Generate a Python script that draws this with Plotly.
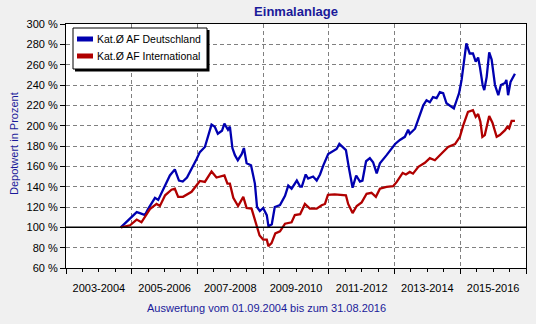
import plotly.graph_objects as go

# ---- data ----
de_dates = ["2004-09-01","2004-10-16","2004-12-13","2005-02-25","2005-04-01","2005-05-28","2005-07-01",
            "2005-09-16","2005-10-22","2005-12-16","2006-03-01","2006-04-25","2006-06-10","2006-07-22",
            "2006-09-07","2006-12-22","2007-01-28","2007-03-25","2007-05-01","2007-06-07","2007-07-13",
            "2007-08-16","2007-10-01","2007-10-28","2007-12-07","2007-12-28","2008-01-25","2008-02-22",
            "2008-03-25","2008-05-07","2008-06-01","2008-07-01","2008-08-19","2008-10-01","2008-10-25",
            "2008-11-25","2009-01-01","2009-02-10","2009-03-01","2009-04-07","2009-05-10","2009-07-07",
            "2009-09-01","2009-10-07","2009-11-13","2010-01-10","2010-02-16","2010-03-07","2010-04-19",
            "2010-05-16","2010-07-10","2010-08-19","2010-09-25","2010-11-01","2010-12-25","2011-02-19",
            "2011-03-28","2011-04-28","2011-06-07","2011-07-10","2011-08-13","2011-09-22","2011-11-01",
            "2011-12-13","2012-01-10","2012-02-19","2012-04-01","2012-05-07","2012-06-16","2012-07-22",
            "2012-10-04","2013-01-07","2013-03-01","2013-04-25","2013-06-01","2013-06-19","2013-08-16",
            "2013-09-22","2013-11-16","2013-12-22","2014-01-28","2014-03-04","2014-04-13","2014-05-19",
            "2014-06-25","2014-08-01","2014-09-07","2014-10-22","2014-11-22","2014-12-19","2015-01-16",
            "2015-02-10","2015-03-10","2015-04-16","2015-05-22","2015-06-22","2015-07-19","2015-08-07",
            "2015-09-07","2015-09-25","2015-10-22","2015-11-19","2015-12-16","2016-01-22","2016-02-28",
            "2016-03-28","2016-05-13","2016-05-28","2016-06-16","2016-07-13","2016-08-31"]
de_values = [100,104,109,115,114,112,118,
             129,127,137,151,157,146,145,
             149,167,174,179,189,201,199,
             192,195,202,196,199,178,171,
             166,172,178,163,161,143,120,
             116,119,112,101,103,120,122,
             131,141,138,146,140,140,152,
             148,150,146,152,161,172,175,
             177,182,179,176,158,139,151,
             145,146,165,168,164,153,163,
             171,182,186,189,196,192,197,
             207,220,225,223,228,227,233,
             232,222,220,217,225,232,245,
             260,281,271,271,263,267,258,
             240,235,248,272,265,240,230,
             240,242,245,230,243,251]

int_dates = ["2004-09-01","2004-12-13","2005-02-25","2005-04-19","2005-07-22","2005-10-04","2005-11-10",
             "2006-01-07","2006-03-19","2006-04-25","2006-06-01","2006-07-25","2006-10-28","2007-01-28",
             "2007-03-25","2007-06-07","2007-08-01","2007-09-07","2007-10-28","2007-12-01","2007-12-28",
             "2008-02-04","2008-03-28","2008-05-25","2008-07-01","2008-08-25","2008-10-19","2008-11-22",
             "2009-01-01","2009-02-10","2009-02-28","2009-04-04","2009-05-16","2009-07-07","2009-09-01",
             "2009-11-13","2009-12-19","2010-02-16","2010-04-10","2010-06-04","2010-08-19","2010-10-13",
             "2010-11-19","2010-12-22","2011-03-07","2011-06-01","2011-07-10","2011-08-04","2011-09-22",
             "2011-11-07","2012-01-01","2012-02-25","2012-04-19","2012-06-07","2012-07-22","2012-10-04",
             "2012-12-16","2013-01-25","2013-04-01","2013-05-07","2013-06-19","2013-07-25","2013-09-22",
             "2013-12-04","2014-01-28","2014-03-25","2014-06-07","2014-08-19","2014-11-04","2014-12-28",
             "2015-02-04","2015-03-28","2015-05-22","2015-06-22","2015-07-19","2015-08-13","2015-09-04",
             "2015-10-01","2015-11-19","2015-12-25","2016-02-10","2016-03-16","2016-05-13","2016-06-07",
             "2016-06-28","2016-07-25","2016-08-31"]
int_values = [100,102,107.6,105,118,123,121,
              131.5,137,138,130,130,135,145.6,
              144.7,155,149,150,151,143,143,
              129,121,130,119,118.4,102,92,
              88,88,81.5,84.5,94,96,103.6,
              105,112,113,123,118.4,118.4,121.7,
              123,132,132.5,131.5,131.5,123,114,
              121,124.5,133,134,130,138,139.7,
              140.4,144.7,153.5,152,154.5,152.8,159.5,
              163.5,168,166,173,179,181.8,189,
              200.5,213.6,215.3,208.7,211.4,203.8,189,
              190.7,209.5,202.9,189,190.7,195.6,198.9,
              197.3,204.8,204.8]

series_names = ["Kat.\u00d8 AF Deutschland", "Kat.\u00d8 AF International"]
period_ticks = ["2004-01-01","2006-01-01","2008-01-01","2010-01-01","2012-01-01","2014-01-01","2016-01-01"]
period_labels = ["2003-2004","2005-2006","2007-2008","2009-2010","2011-2012","2013-2014","2015-2016"]
y_ticks = list(range(60, 301, 20))

FONT = "Arial, Liberation Sans, sans-serif"
BLUE = "#0000B0"
RED = "#B00000"
NAVY = "#1A1A9A"
colors = [BLUE, RED]

# plot area geometry (pixels) used to place legend box decorations
PL, PR, PT, PB = 66, 526, 24, 268
def px(xp):
    return (xp - PL) / (PR - PL)
def py(yp):
    return (PB - yp) / (PB - PT)

fig = go.Figure()
fig.add_trace(go.Scatter(x=de_dates, y=de_values, mode="lines", name=series_names[0],
                         line=dict(color=BLUE, width=2.3), showlegend=False))
fig.add_trace(go.Scatter(x=int_dates, y=int_values, mode="lines", name=series_names[1],
                         line=dict(color=RED, width=2.3), showlegend=False))
# invisible trace to host the half-year tick axis
fig.add_trace(go.Scatter(x=[de_dates[0]], y=[de_values[0]], xaxis="x2", mode="markers",
                         marker=dict(opacity=0), showlegend=False, hoverinfo="skip"))

grid_color = "#808080"
grid_dash = "4px,3px"

fig.update_layout(
    width=536, height=324,
    margin=dict(l=PL, r=536 - PR, t=PT, b=324 - PB),
    paper_bgcolor="#F0F0F0", plot_bgcolor="white",
    font=dict(family=FONT, size=11, color="black"),
    title=dict(text="<b>Einmalanlage</b>", x=0.5, xref="paper", xanchor="center",
               y=1 - 11 / 324, yanchor="middle",
               font=dict(family=FONT, size=13, color=NAVY)),
    xaxis=dict(type="date", range=["2003-01-01", "2017-01-01"],
               tickmode="array", tickvals=period_ticks, ticktext=period_labels,
               ticks="outside", ticklen=10, tickcolor="rgba(0,0,0,0)",
               showgrid=False, zeroline=False,
               showline=True, linecolor="black", linewidth=1, mirror=True,
               minor=dict(tickmode="linear", tick0="2003-01-01", dtick="M24",
                          ticks="outside", ticklen=5, tickcolor="black",
                          showgrid=True, gridcolor=grid_color, griddash=grid_dash,
                          gridwidth=1),
               tickfont=dict(size=11, color="black")),
    xaxis2=dict(type="date", range=["2003-01-01", "2017-01-01"], overlaying="x", anchor="y",
                side="bottom", tickmode="linear", tick0="2003-01-01", dtick="M6",
                ticks="outside", ticklen=3, tickcolor="black", showticklabels=False,
                showgrid=False, zeroline=False, showline=False),
    yaxis=dict(range=[60, 300], tickmode="array", tickvals=y_ticks,
               ticktext=[f"{v} %" for v in y_ticks],
               ticks="outside", ticklen=5, tickcolor="black",
               showgrid=True, gridcolor=grid_color, griddash=grid_dash, gridwidth=1,
               zeroline=False, showline=True, linecolor="black", linewidth=1, mirror=True,
               tickfont=dict(size=11, color="black")),
    showlegend=False,
)

# 100 % reference line
fig.add_shape(type="line", xref="paper", yref="y", x0=0, x1=1, y0=100, y1=100,
              line=dict(color="black", width=1.5), layer="above")

# legend box: shadow, frame, swatches and labels
fig.add_shape(type="rect", xref="paper", yref="paper",
              x0=px(75), x1=px(209.5), y0=py(71.5), y1=py(30),
              fillcolor="black", line=dict(width=0), layer="above")
fig.add_shape(type="rect", xref="paper", yref="paper",
              x0=px(73), x1=px(207), y0=py(69), y1=py(28),
              fillcolor="white", line=dict(color="black", width=1), layer="above")
for i, (name, col) in enumerate(zip(series_names, colors)):
    yc = 39 + 17 * i
    fig.add_shape(type="line", xref="paper", yref="paper",
                  x0=px(77), x1=px(93), y0=py(yc), y1=py(yc),
                  line=dict(color=col, width=5), layer="above")
    fig.add_annotation(text=name, xref="paper", yref="paper", x=px(95), y=py(yc),
                       xanchor="left", yanchor="middle", showarrow=False,
                       font=dict(family=FONT, size=10.5, color="black"))

fig.add_annotation(text="Depotwert in Prozent", xref="paper", yref="paper",
                   x=px(14), y=py(144), textangle=-90, showarrow=False,
                   xanchor="center", yanchor="middle",
                   font=dict(family=FONT, size=11, color=NAVY))
fig.add_annotation(text="Auswertung vom 01.09.2004 bis zum 31.08.2016", xref="paper", yref="paper",
                   x=px(266), y=py(308), showarrow=False,
                   xanchor="center", yanchor="middle",
                   font=dict(family=FONT, size=11, color=NAVY))

fig.write_html("out.html")
